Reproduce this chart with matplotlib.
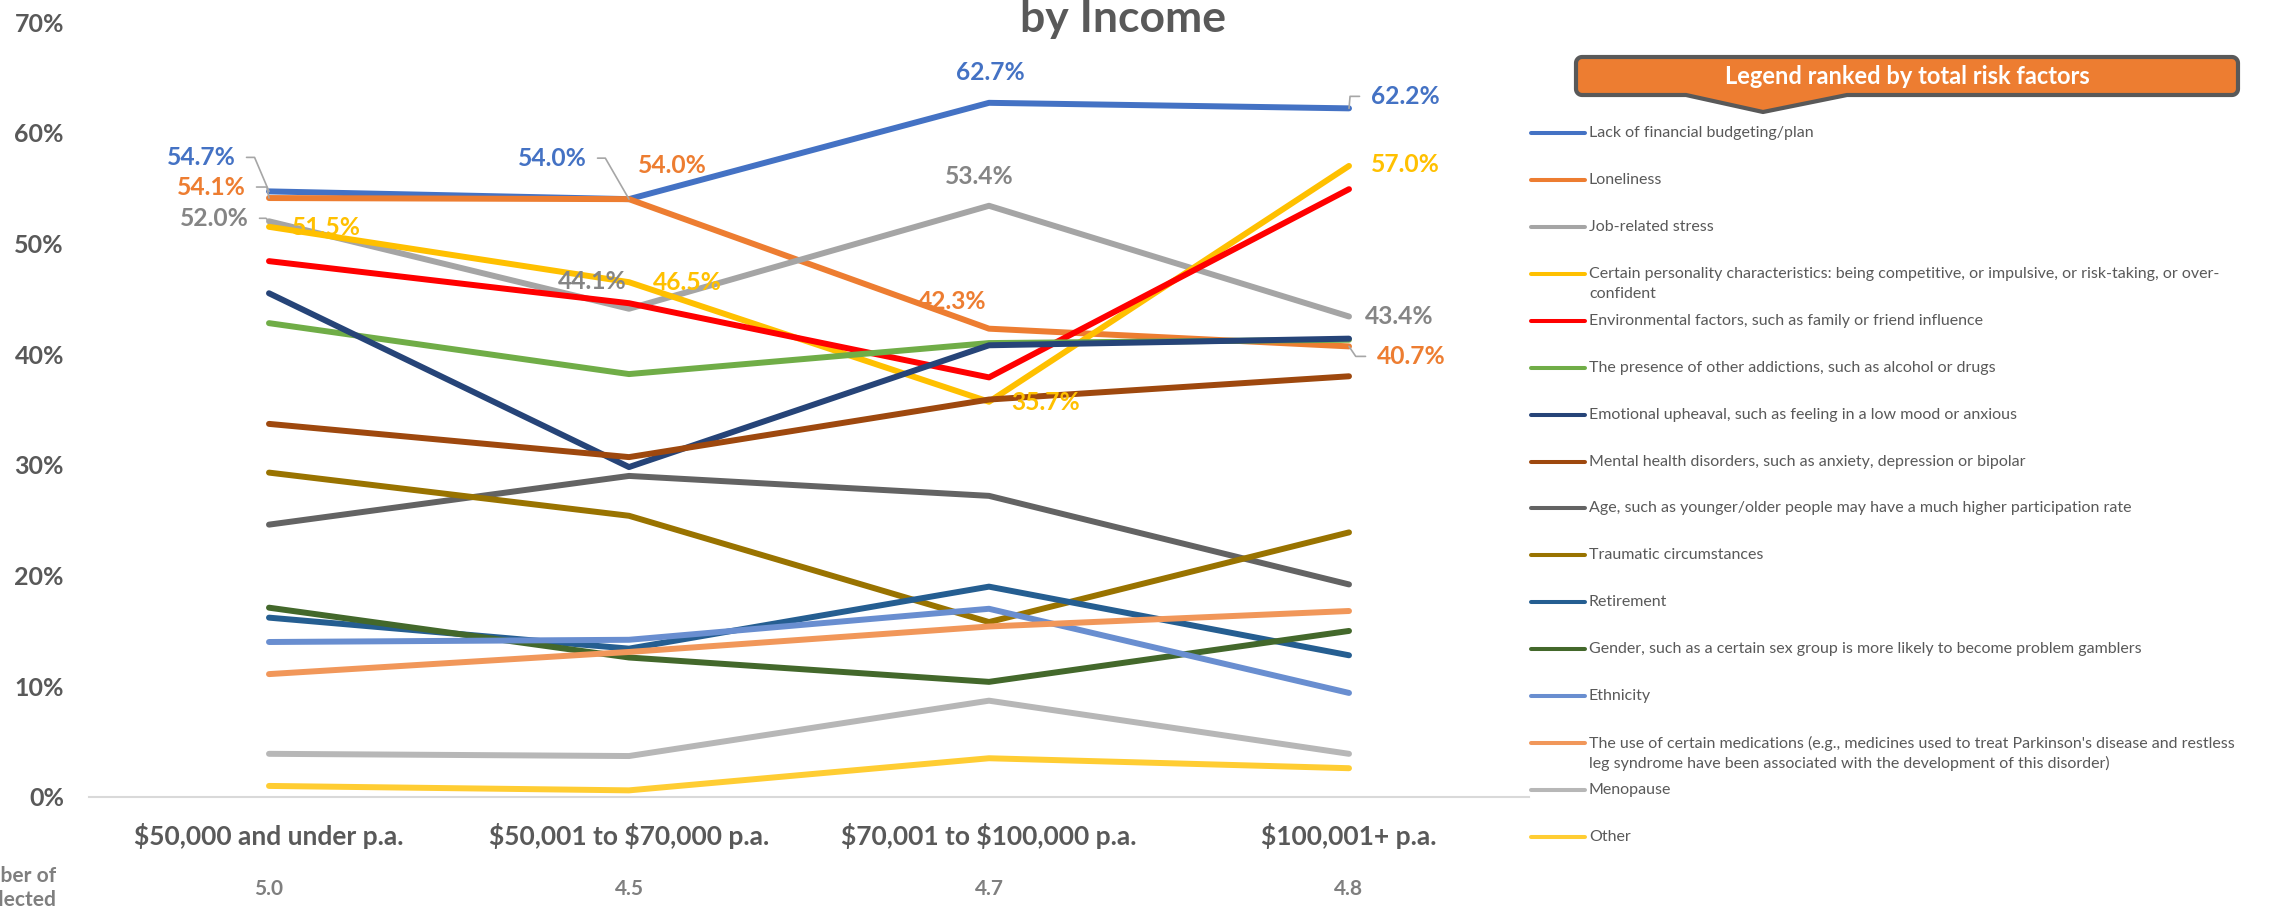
import numpy as np
import matplotlib
matplotlib.use("Agg")
import matplotlib.pyplot as plt
from matplotlib.lines import Line2D
from matplotlib.patches import Polygon

W, H = 2270, 914
plt.rcParams['font.family'] = ['Lato', 'DejaVu Sans']
plt.rcParams['text.parse_math'] = False

# categories (income bands) and average number of factors selected
incomes = ["$50,000 and under p.a.", "$50,001 to $70,000 p.a.",
           "$70,001 to $100,000 p.a.", "$100,001+ p.a."]
avg_factors = [5.0, 4.5, 4.7, 4.8]

factors = [
    "Lack of financial budgeting/plan",
    "Loneliness",
    "Job-related stress",
    "Certain personality characteristics: being competitive, or impulsive, or risk-taking, or over-\nconfident",
    "Environmental factors, such as family or friend influence",
    "The presence of other addictions, such as alcohol or drugs",
    "Emotional upheaval, such as feeling in a low mood or anxious",
    "Mental health disorders, such as anxiety, depression or bipolar",
    "Age, such as younger/older people may have a much higher participation rate",
    "Traumatic circumstances",
    "Retirement",
    "Gender, such as a certain sex group is more likely to become problem gamblers",
    "Ethnicity",
    "The use of certain medications (e.g., medicines used to treat Parkinson's disease and restless\nleg syndrome have been associated with the development of this disorder)",
    "Menopause",
    "Other",
]
colours = ['#4472C4', '#ED7D31', '#A5A5A5', '#FFC000', '#FF0000', '#70AD47',
           '#264478', '#9E480E', '#636363', '#997300', '#255E91', '#43682B',
           '#698ED0', '#F1975A', '#B7B7B7', '#FFCD33']

# % of respondents per income band
budgeting   = [54.7, 54.0, 62.7, 62.2]
loneliness  = [54.1, 54.0, 42.3, 40.7]
job_stress  = [52.0, 44.1, 53.4, 43.4]
personality = [51.5, 46.5, 35.7, 57.0]
environment = [48.4, 44.6, 37.9, 54.9]
addictions  = [42.8, 38.2, 41.0, 41.3]
emotional   = [45.5, 29.8, 40.8, 41.4]
mental      = [33.7, 30.7, 35.9, 38.0]
age         = [24.6, 29.0, 27.2, 19.2]
traumatic   = [29.3, 25.4, 15.8, 23.9]
retirement  = [16.2, 13.4, 19.0, 12.8]
gender      = [17.1, 12.6, 10.4, 15.0]
ethnicity   = [14.0, 14.2, 17.0, 9.4]
medications = [11.1, 13.1, 15.4, 16.8]
menopause   = [3.9, 3.7, 8.7, 3.9]
other       = [1.0, 0.6, 3.5, 2.6]

series = [budgeting, loneliness, job_stress, personality, environment, addictions,
          emotional, mental, age, traumatic, retirement, gender, ethnicity,
          medications, menopause, other]

label_colours = {0: '#4472C4', 1: '#ED7D31', 2: '#858585', 3: '#FFC000'}
# (series, category, dx px, dy px, leader angle)
labels = [
    (0, 0, -68, 34, 113), (1, 0, -58, 11, 101), (2, 0, -55, 3, 135), (3, 0, 57, -1, None),
    (0, 1, -77, 41, 120), (1, 1, 43, 34, None), (2, 1, -37, 27, None), (3, 1, 58, 0, None),
    (0, 2, 1, 30, None), (2, 2, -10, 29, None), (1, 2, -37, 27, None), (3, 2, 57, -1, None),
    (0, 3, 56, 12, 85), (3, 3, 56, 1, None), (2, 3, 50, 0, None), (1, 3, 62, -10, -56),
]

fig = plt.figure(figsize=(W / 100, H / 100), dpi=100)
ax = fig.add_axes([89 / W, 117 / H, 1440 / W, 775 / H])

x = np.arange(len(incomes))
for vals, col in zip(series, colours):
    ax.plot(x, vals, color=col, lw=4.3, solid_capstyle='round', solid_joinstyle='round')

ax.set_xlim(-0.5, 3.5)
ax.set_ylim(0, 70)
ax.set_yticks(range(0, 71, 10))
ax.set_yticklabels([f"{t}%" for t in range(0, 71, 10)])
ax.set_xticks(x)
ax.set_xticklabels(incomes)
ax.tick_params(axis='y', length=0, pad=18, labelsize=18, labelcolor='#595959')
ax.tick_params(axis='x', length=0, pad=18.5, labelsize=19, labelcolor='#595959')
for lab in ax.get_xticklabels() + ax.get_yticklabels():
    lab.set_fontweight('bold')
for s in ['top', 'right', 'left']:
    ax.spines[s].set_visible(False)
ax.spines['bottom'].set_color('#D9D9D9')
ax.spines['bottom'].set_linewidth(1.5)

for s, i, dx, dy, ang in labels:
    v = series[s][i]
    kw = {}
    if ang is not None:
        kw['arrowprops'] = dict(arrowstyle='-', color='#A6A6A6', lw=1.2, shrinkA=6, shrinkB=0,
                                relpos=(1, 0.5) if dx < 0 else (0, 0.5),
                                connectionstyle=f"angle,angleA=0,angleB={ang},rad=0")
    ax.annotate(f"{v:.1f}%", xy=(i, v), xytext=(dx, dy), textcoords='offset pixels',
                ha='center', va='center', color=label_colours[s], fontsize=17.7,
                fontweight='bold', zorder=5, **kw)

for i, v in enumerate(avg_factors):
    ax.text(i, -0.1187, f"{v:.1f}", transform=ax.get_xaxis_transform(), ha='center',
            va='center', fontsize=15, fontweight='bold', color='#7F7F7F')
fig.text(56 / W, 1 - 888 / H, "Average number of\nfactors selected", ha='right', va='center',
         multialignment='right', fontsize=15, fontweight='bold', color='#7F7F7F', linespacing=1.3)

fig.text(1123 / W, 1 - 32 / H, "by Income", ha='center', va='baseline', fontsize=32,
         fontweight='bold', color='#595959')

# legend header box with pointer
def box_path(x0, y0, x1, y1, r, notch):
    pts = []
    def arc(cx, cy, a0, a1):
        for t in np.linspace(np.radians(a0), np.radians(a1), 8):
            pts.append((cx + r * np.cos(t), cy + r * np.sin(t)))
    arc(x1 - r, y0 + r, -90, 0)
    arc(x1 - r, y1 - r, 0, 90)
    pts.extend(notch)
    arc(x0 + r, y1 - r, 90, 180)
    arc(x0 + r, y0 + r, 180, 270)
    return [(px / W, 1 - py / H) for px, py in pts]

verts = box_path(1576, 57, 2238, 95, 6, [(1847, 95), (1763, 112), (1686, 95)])
fig.add_artist(Polygon(verts, closed=True, transform=fig.transFigure, facecolor='#ED7D31',
                       edgecolor='#595959', lw=3, joinstyle='round'))
fig.text(1907 / W, 1 - 77 / H, "Legend ranked by total risk factors", ha='center', va='center',
         fontsize=17, fontweight='bold', color='white')

for k, (name, col) in enumerate(zip(factors, colours)):
    yy = 133 + 46.93 * k
    fig.add_artist(Line2D([1531 / W, 1585 / W], [1 - yy / H] * 2, transform=fig.transFigure,
                          color=col, lw=2.9, solid_capstyle='round'))
    for j, line in enumerate(name.split('\n')):
        fig.text(1589 / W, 1 - (yy + 20.5 * j) / H, line, ha='left', va='center',
                 fontsize=11.5, color='#595959')

fig.savefig("out.png", dpi=100)
